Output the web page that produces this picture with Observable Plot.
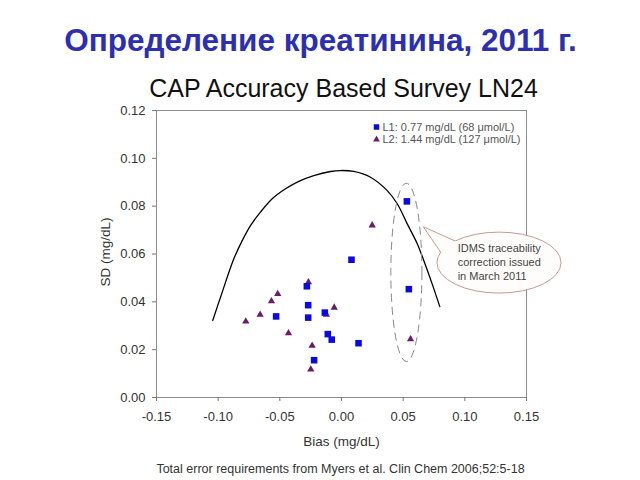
<!DOCTYPE html>
<html>
<head>
<meta charset="utf-8">
<script src="https://cdn.jsdelivr.net/npm/d3@7"></script>
<script src="https://cdn.jsdelivr.net/npm/@observablehq/plot@0.6"></script>
<style>
  body { margin: 0; background: #fff; }
  #chart { width: 640px; height: 480px; }
</style>
</head>
<body>
<div id="chart"></div>
<script>
// ---- Data ----
const xTicks = [-0.15, -0.10, -0.05, 0.00, 0.05, 0.10, 0.15];
const yTicks = [0.00, 0.02, 0.04, 0.06, 0.08, 0.10, 0.12];

// L1: 0.77 mg/dL (squares)
const l1Bias = [0.053, 0.0081, 0.0546, -0.0281, -0.027, -0.027, -0.053, -0.0135, -0.0111, -0.0079, 0.0138, -0.0222];
const l1SD   = [0.082, 0.0576, 0.0453, 0.0465, 0.0386, 0.0334, 0.0339, 0.0355, 0.0265, 0.0242, 0.0227, 0.0156];

// L2: 1.44 mg/dL (triangles)
const l2Bias = [0.0249, -0.0268, -0.0517, -0.0568, -0.0059, -0.0122, -0.066, -0.0776, -0.043, -0.0238, -0.0249, 0.056];
const l2SD   = [0.072, 0.0482, 0.0433, 0.0403, 0.0376, 0.0346, 0.0346, 0.0318, 0.0269, 0.0217, 0.0117, 0.0244];

// Total error requirement curve
const teBias = [-0.1044, -0.0981, -0.0873, -0.0805, -0.0738, -0.0657, -0.0562, -0.0454, -0.0346, -0.0225, -0.0089, -0.0008, 0.0100, 0.0235, 0.0371, 0.0452, 0.0533, 0.0614, 0.0667, 0.0735, 0.0797];
const teSD   = [0.0322, 0.0419, 0.0580, 0.0656, 0.0719, 0.0775, 0.0831, 0.0873, 0.0904, 0.0928, 0.0945, 0.0949, 0.0945, 0.0921, 0.0865, 0.0810, 0.0726, 0.0643, 0.0573, 0.0475, 0.0380];

const seriesNames = ["L1: 0.77 mg/dL (68 \u03bcmol/L)", "L2: 1.44 mg/dL (127 \u03bcmol/L)"];
const calloutLines = ["IDMS traceability", "correction issued", "in March 2011"];

// annotation geometry in data units
const idmsEllipse = { bias: 0.0530, sd: 0.0521, halfBias: 0.0126, halfSD: 0.0373 };
const bubble = { bias: 0.1281, sd: 0.0562, halfBias: 0.0503, halfSD: 0.01275, tipBias: 0.0667, tipSD: 0.0712, textBias: 0.0946 };

// ---- Tables ----
const l1 = l1Bias.map((b, i) => ({ bias: b, sd: l1SD[i] }));
const l2 = l2Bias.map((b, i) => ({ bias: b, sd: l2SD[i] }));
const te = teBias.map((b, i) => ({ bias: b, sd: teSD[i] }));

// plot-area border traced through the domain corners (from the tick arrays)
const xMin = d3.min(xTicks), xMax = d3.max(xTicks), yMin = d3.min(yTicks), yMax = d3.max(yTicks);
const border = [
  { bias: xMin, sd: yMax }, { bias: xMax, sd: yMax }, { bias: xMax, sd: yMin },
  { bias: xMin, sd: yMin }, { bias: xMin, sd: yMax }
];

const font = "Arial, 'Liberation Sans', Helvetica, sans-serif";
const fmt = d => d.toFixed(2);
const blue = "#0a0ae0";
const purple = "#6a1b6a";
const frameColor = "#8c8c8c";

const plot = Plot.plot({
  width: 640,
  height: 480,
  marginLeft: 156,
  marginRight: 114,
  marginTop: 110,
  marginBottom: 83,
  style: { fontFamily: font, background: "#fff", overflow: "visible" },
  x: { domain: [xMin, xMax], label: null },
  y: { domain: [yMin, yMax], label: null },
  marks: [
    Plot.frame({ stroke: frameColor, strokeWidth: 1 }),
    Plot.line(border, { x: "bias", y: "sd", stroke: frameColor, strokeWidth: 1, curve: "linear" }),
    Plot.axisX({ ticks: xTicks, tickFormat: fmt, tickSize: 4, tickPadding: 10, fontSize: 13, stroke: "#777", fill: "#333", label: null }),
    Plot.axisY({ ticks: yTicks, tickFormat: fmt, tickSize: 4, tickPadding: 7, fontSize: 13, stroke: "#777", fill: "#333", label: null }),
    Plot.line(te, { x: "bias", y: "sd", curve: "catmull-rom", stroke: "#000", strokeWidth: 1.3 }),
    Plot.dot(l2, { x: "bias", y: "sd", symbol: "triangle", r: 2.7, fill: purple }),
    Plot.dot(l1, { x: "bias", y: "sd", symbol: "square", r: 3.7, fill: blue }),
    // legend
    Plot.dot([0], { frameAnchor: "top-right", dx: -150, dy: 16.5, symbol: "square", r: 3.1, fill: blue }),
    Plot.dot([0], { frameAnchor: "top-right", dx: -150, dy: 29, symbol: "triangle", r: 2.5, fill: purple }),
    Plot.text([seriesNames[0]], { frameAnchor: "top-right", dx: -144, dy: 16.5, textAnchor: "start", lineAnchor: "middle", fontSize: 11, fill: "#555" }),
    Plot.text([seriesNames[1]], { frameAnchor: "top-right", dx: -144, dy: 29, textAnchor: "start", lineAnchor: "middle", fontSize: 11, fill: "#555" }),
    // titles
    Plot.text(["Определение креатинина, 2011 г."], { frameAnchor: "top", dx: -21, dy: -70, lineAnchor: "middle", fontSize: 31.5, fontWeight: "bold", fill: "#2b2fb0" }),
    Plot.text(["CAP Accuracy Based Survey LN24"], { frameAnchor: "top", dx: 2, dy: -22, lineAnchor: "middle", fontSize: 25, fill: "#111" }),
    Plot.text(["Bias (mg/dL)"], { frameAnchor: "bottom", dy: 44, lineAnchor: "middle", fontSize: 13.5, fill: "#333" }),
    Plot.text(["SD (mg/dL)"], { frameAnchor: "left", dx: -51, dy: -2, rotate: -90, textAnchor: "middle", lineAnchor: "middle", fontSize: 13.5, fill: "#333" }),
    Plot.text(["Total error requirements from Myers et al. Clin Chem 2006;52:5-18"], { frameAnchor: "bottom", dx: -1, dy: 71, lineAnchor: "middle", fontSize: 12.5, fill: "#333" })
  ]
});

document.getElementById("chart").appendChild(plot);

// ---- annotations positioned through the plot's scales ----
const sx = plot.scale("x"), sy = plot.scale("y");
const svg = d3.select(plot);
const g = svg.append("g").attr("font-family", font).attr("text-anchor", "start");

// dashed ellipse around the IDMS-affected points
{
  const cx = sx.apply(idmsEllipse.bias), cy = sy.apply(idmsEllipse.sd);
  const rx = sx.apply(idmsEllipse.bias + idmsEllipse.halfBias) - cx;
  const ry = cy - sy.apply(idmsEllipse.sd + idmsEllipse.halfSD);
  g.append("ellipse").attr("cx", cx).attr("cy", cy).attr("rx", rx).attr("ry", ry)
    .attr("fill", "none").attr("stroke", "#888").attr("stroke-width", 1).attr("stroke-dasharray", "8,5");
}

// callout bubble
{
  const cx = sx.apply(bubble.bias), cy = sy.apply(bubble.sd);
  const rx = sx.apply(bubble.bias + bubble.halfBias) - cx;
  const ry = cy - sy.apply(bubble.sd + bubble.halfSD);
  const tx = sx.apply(bubble.tipBias), ty = sy.apply(bubble.tipSD);
  const a1 = 225 * Math.PI / 180, a2 = 200 * Math.PI / 180;
  const p1 = [cx + rx * Math.cos(a1), cy + ry * Math.sin(a1)];
  const p2 = [cx + rx * Math.cos(a2), cy + ry * Math.sin(a2)];
  const fill = "#fffdfc", stroke = "#c49a94";
  g.append("ellipse").attr("cx", cx).attr("cy", cy).attr("rx", rx).attr("ry", ry)
    .attr("fill", fill).attr("stroke", stroke).attr("stroke-width", 1);
  const inner1 = [p1[0] + (cx - p1[0]) * 0.08, p1[1] + (cy - p1[1]) * 0.08];
  const inner2 = [p2[0] + (cx - p2[0]) * 0.08, p2[1] + (cy - p2[1]) * 0.08];
  g.append("path").attr("d", `M${tx},${ty}L${p1[0]},${p1[1]}L${inner1[0]},${inner1[1]}L${inner2[0]},${inner2[1]}L${p2[0]},${p2[1]}Z`)
    .attr("fill", fill).attr("stroke", "none");
  g.append("path").attr("d", `M${p1[0]},${p1[1]}L${tx},${ty}L${p2[0]},${p2[1]}`)
    .attr("fill", "none").attr("stroke", stroke).attr("stroke-width", 1);
  const textX = sx.apply(bubble.textBias);
  calloutLines.forEach((line, i) => {
    g.append("text").attr("x", textX).attr("y", cy + (i - 1) * 14).attr("dy", "0.35em")
      .attr("text-anchor", "start").attr("font-size", 11).attr("fill", "#444").text(line);
  });
}
</script>
</body>
</html>
